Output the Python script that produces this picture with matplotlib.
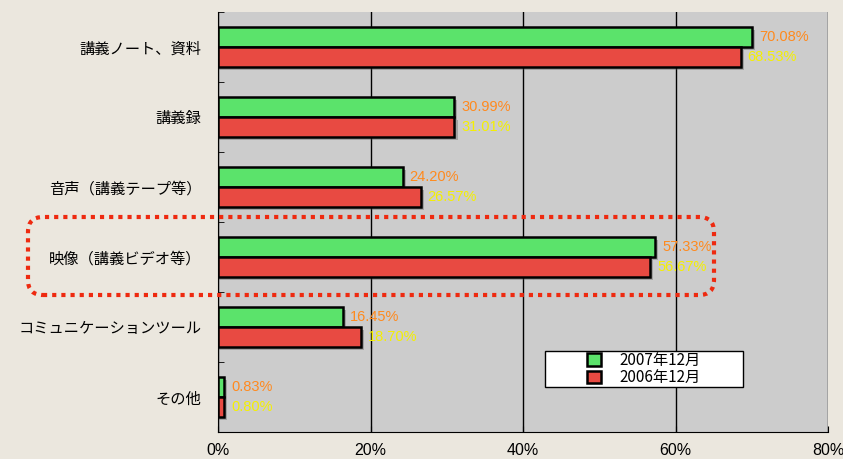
import numpy as np
import matplotlib.pyplot as plt
from matplotlib.patches import FancyBboxPatch, Rectangle

plt.rcParams['font.family'] = ['Noto Sans CJK JP', 'DejaVu Sans']

# data
categories = ['講義ノート、資料', '講義録', '音声（講義テープ等）',
              '映像（講義ビデオ等）', 'コミュニケーションツール', 'その他']
vals_2007 = [70.08, 30.99, 24.20, 57.33, 16.45, 0.83]
vals_2006 = [68.53, 31.01, 26.57, 56.67, 18.70, 0.80]
series_names = ['2007年12月', '2006年12月']
xticks = [0, 20, 40, 60, 80]

green = '#5be36b'
red = '#e84a42'
latin = ['Liberation Sans', 'DejaVu Sans']

fig = plt.figure(figsize=(8.43, 4.59), dpi=100)
fig.patch.set_facecolor('#ebe7de')
ax = fig.add_axes([218/843, 27/459, 610/843, 420/459])
ax.set_facecolor('#cccccc')

n = len(categories)
y = np.arange(n)
h = 0.29

# drop shadows
for yy, v in zip(y, vals_2007):
    ax.barh(yy - h/2 + 0.04, v + 0.4, height=h, color='#555555', alpha=0.35,
            zorder=2, linewidth=0)
for yy, v in zip(y, vals_2006):
    ax.barh(yy + h/2 + 0.04, v + 0.4, height=h, color='#555555', alpha=0.35,
            zorder=2, linewidth=0)

ax.barh(y - h/2, vals_2007, height=h, color=green, edgecolor='black',
        linewidth=1.8, zorder=3, label=series_names[0])
ax.barh(y + h/2, vals_2006, height=h, color=red, edgecolor='black',
        linewidth=1.8, zorder=3, label=series_names[1])

for yy, v in zip(y, vals_2007):
    ax.text(v + 0.9, yy - h/2, '%.2f%%' % v, color='#ff8a1e', fontsize=10.5,
            va='center', ha='left', zorder=4, family=latin)
for yy, v in zip(y, vals_2006):
    ax.text(v + 0.9, yy + h/2, '%.2f%%' % v, color='#f5f000', fontsize=10.5,
            va='center', ha='left', zorder=4, family=latin)

ax.set_xlim(0, 80)
ax.set_ylim(n - 0.5, -0.5)
ax.set_xticks(xticks)
ax.set_xticklabels(['%d%%' % t for t in xticks], family=latin)
ax.tick_params(axis='x', direction='in', length=4, labelsize=11.5, pad=8)
ax.set_yticks(y)
ax.set_yticklabels(categories, fontsize=11)
ax.tick_params(axis='y', which='major', length=0, pad=12)
ax.set_yticks(np.arange(n + 1) - 0.5, minor=True)
ax.tick_params(axis='y', which='minor', direction='in', length=4)
ax.xaxis.grid(True, color='black', linewidth=1)
ax.set_axisbelow(True)
for s in ['top', 'right']:
    ax.spines[s].set_visible(False)

# legend box
lx0, lx1 = (545-218)/610, (743-218)/610
ly0, ly1 = (432-387)/420, (432-351)/420
ax.add_patch(Rectangle((lx0, ly0), lx1 - lx0, ly1 - ly0, transform=ax.transAxes,
                       facecolor='white', edgecolor='black', linewidth=1, zorder=5))
leg = ax.legend(loc='center', bbox_to_anchor=((lx0 + lx1)/2, (ly0 + ly1)/2),
                frameon=False, fontsize=11, handlelength=0.9, handleheight=0.9,
                handletextpad=1.2, borderpad=0, labelspacing=0.05)
leg.set_zorder(6)

# highlight box around 映像
box = FancyBboxPatch((0.28, 1.64), 6.86, 0.78, boxstyle='round,pad=0,rounding_size=0.15',
                     transform=fig.dpi_scale_trans, fill=False, edgecolor='#ee2a10',
                     linewidth=3, linestyle=(0, (1, 1.2)), zorder=10)
fig.patches.append(box)

fig.savefig('out.png', dpi=100, facecolor=fig.get_facecolor())
